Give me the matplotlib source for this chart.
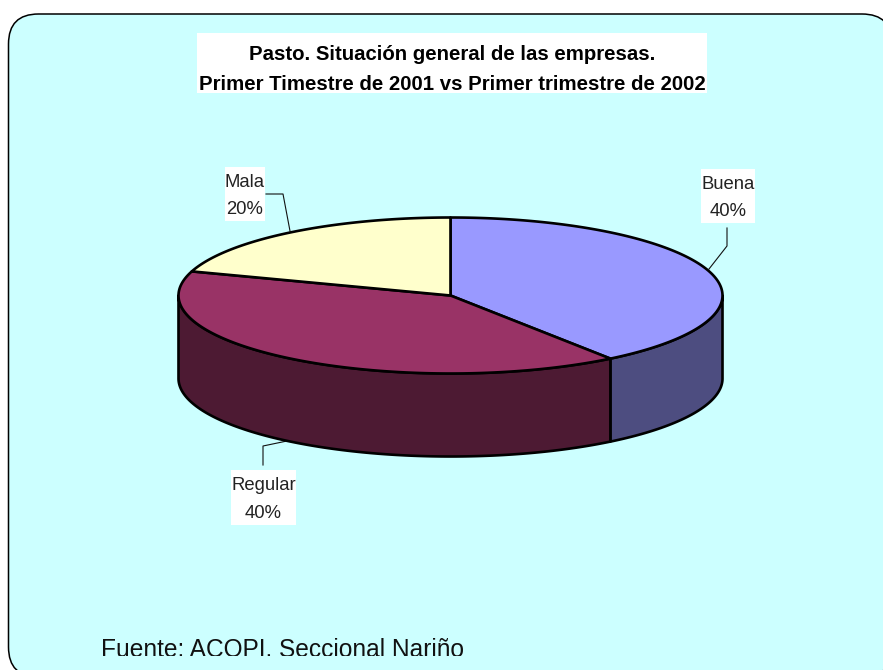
import numpy as np
import matplotlib
matplotlib.use("Agg")
import matplotlib.pyplot as plt
from matplotlib.patches import FancyBboxPatch, Polygon, Rectangle

categories = ["Buena", "Regular", "Mala"]
shares = [40, 40, 20]
top_colors = ["#9999FF", "#993366", "#FFFFCC"]
side_colors = ["#4D4D80", "#4D1A33", "#808066"]
title_lines = ["Pasto. Situación general de las empresas.",
               "Primer Timestre de 2001 vs Primer trimestre de 2002"]
source_text = "Fuente: ACOPI. Seccional Nariño"

# pie geometry, in pixels of the picture
CX, CY = 450.5, 295.5
RX, RY = 272, 78
DEPTH = 83


def rim(a1, a2):
    # angles are clockwise from the top of the pie, in degrees
    t = np.radians(np.linspace(a1, a2, 200))
    return np.column_stack([CX + RX * np.sin(t), CY - RY * np.cos(t)])


def label_box(ax, x1, y1, x2, y2, lines, size=13.3):
    ax.add_patch(Rectangle((x1, y1), x2 - x1, y2 - y1, fc="white", ec="none", zorder=5))
    n = len(lines)
    for i, s in enumerate(lines):
        y = y1 + (y2 - y1) * (i + 0.5) / n + 2
        ax.text((x1 + x2) / 2, y, s, ha="center", va="center", fontsize=size,
                color="#222222", zorder=6)


def main():
    plt.rcParams["font.family"] = ["Liberation Sans", "DejaVu Sans"]
    fig = plt.figure(figsize=(8.83, 6.7), dpi=100)
    ax = fig.add_axes([0, 0, 1, 1])
    ax.set_xlim(0, 883)
    ax.set_ylim(670, 0)
    ax.axis("off")

    ax.add_patch(FancyBboxPatch((8.5, 14), 883.5, 663, boxstyle="round,pad=0,rounding_size=30",
                                fc="#CCFFFF", ec="black", lw=1.1, zorder=1))

    # slice angles come from the shares
    edges = np.cumsum([0] + shares) / sum(shares) * 360

    # side walls first, only the front half of the pie shows them
    for i in range(len(shares)):
        a1 = max(edges[i], 90)
        a2 = min(edges[i + 1], 270)
        if a1 >= a2:
            continue
        pts = rim(a1, a2)
        wall = np.vstack([pts, (pts + [0, DEPTH])[::-1]])
        ax.add_patch(Polygon(wall, closed=True, fc=side_colors[i], ec="black", lw=1.9,
                             joinstyle="round", zorder=2))

    for i in range(len(shares)):
        pts = np.vstack([[CX, CY], rim(edges[i], edges[i + 1])])
        ax.add_patch(Polygon(pts, closed=True, fc=top_colors[i], ec="black", lw=1.9,
                             joinstyle="round", zorder=3))

    # leader lines
    ax.plot([709, 727, 727], [269, 246, 228], color="#111111", lw=0.8, zorder=2.5)
    ax.plot([266, 283, 290], [194, 194, 231], color="#111111", lw=0.8, zorder=2.5)
    ax.plot([287, 263, 263], [441, 446, 465], color="#111111", lw=0.8, zorder=1.5)

    label_box(ax, 701, 169, 755, 223, [categories[0], f"{shares[0]}%"])
    label_box(ax, 231, 470, 296, 525, [categories[1], f"{shares[1]}%"])
    label_box(ax, 225, 167, 265, 221, [categories[2], f"{shares[2]}%"])

    ax.add_patch(Rectangle((197, 33), 510, 60, fc="white", ec="none", zorder=5))
    for y, s in zip([54, 84], title_lines):
        ax.text(452.5, y, s, ha="center", va="center", fontsize=14.7, fontweight="bold",
                color="black", zorder=6)

    # the source line is cut off at the bottom in the original
    src = ax.text(101, 657, source_text, ha="left", va="baseline", fontsize=17.65,
                  color="#111111", zorder=6, clip_on=True)
    src.set_clip_path(Rectangle((0, 0), 883, 655.5, transform=ax.transData))

    fig.savefig("out.png", dpi=100)


if __name__ == "__main__":
    main()
